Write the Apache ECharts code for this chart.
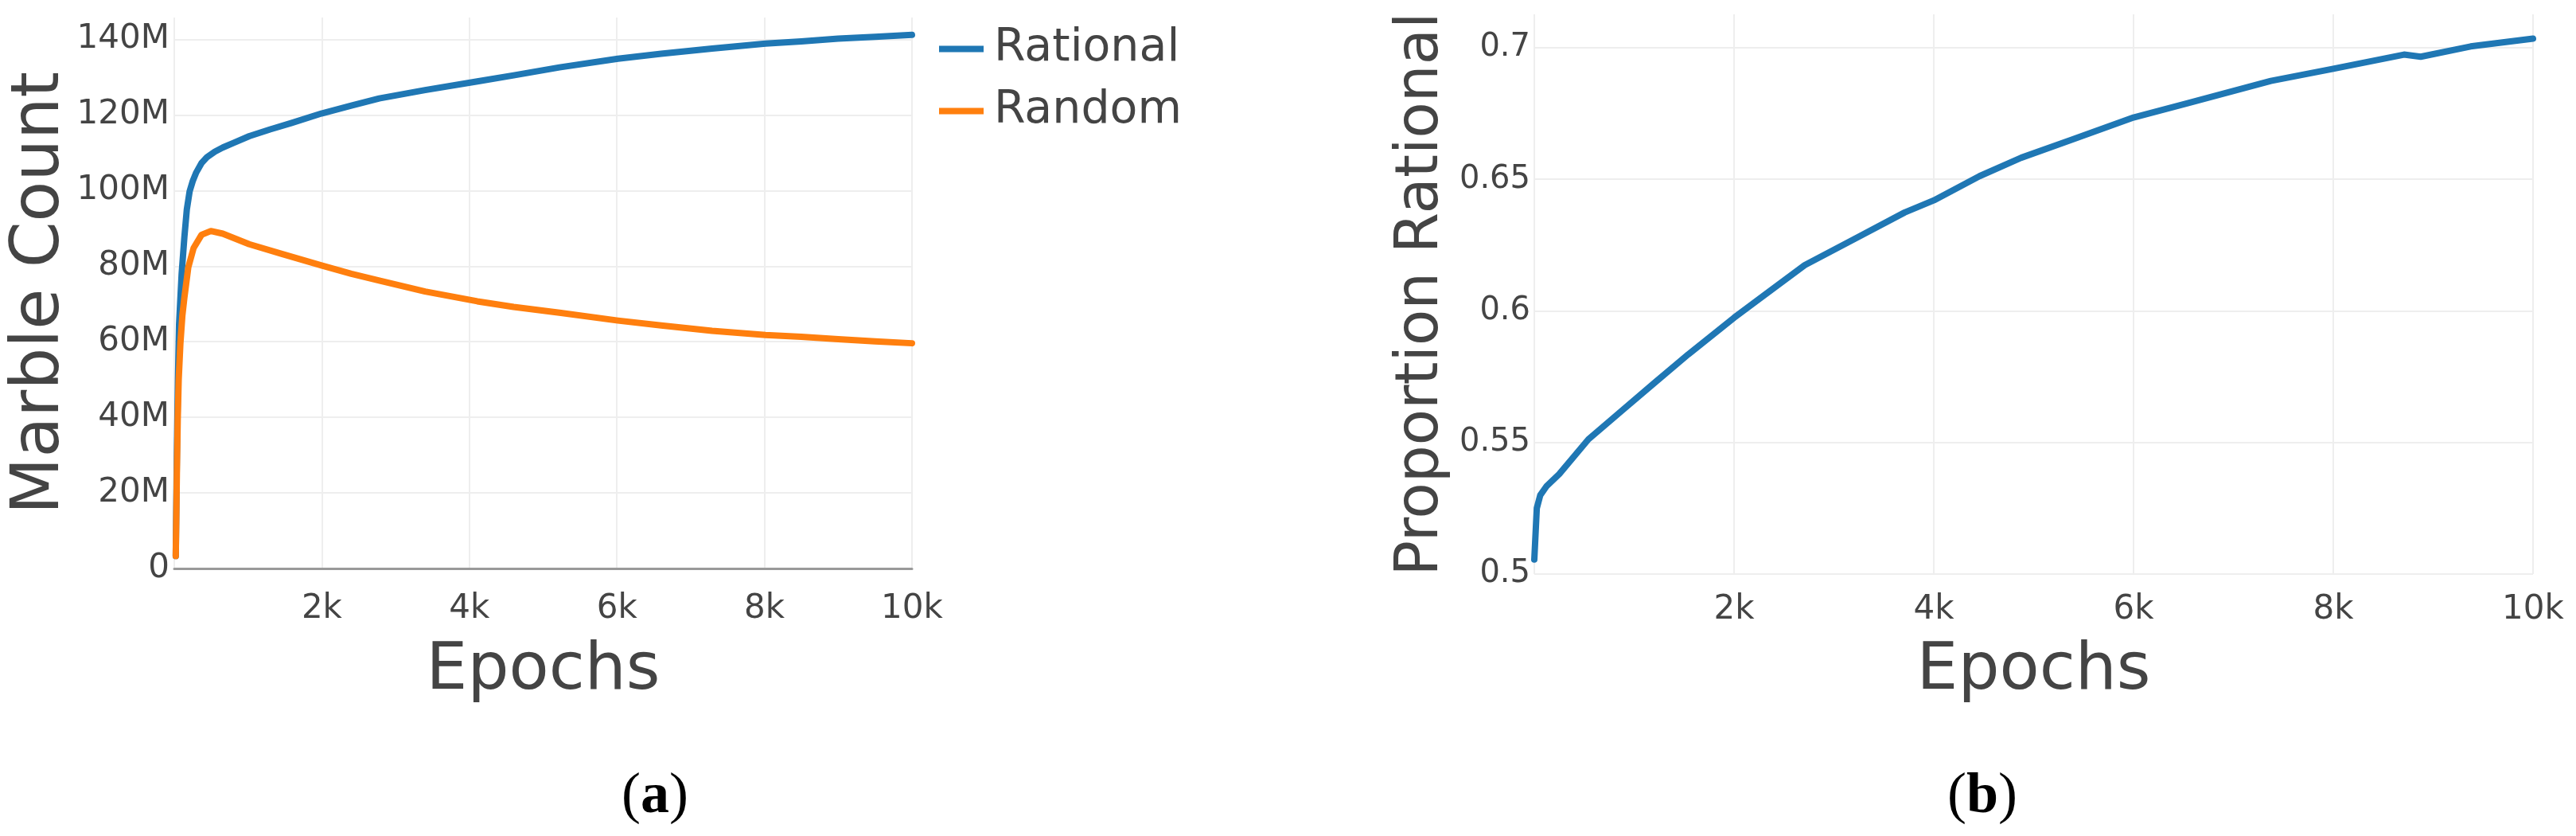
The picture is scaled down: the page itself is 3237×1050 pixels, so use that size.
<!DOCTYPE html>
<html>
<head>
<meta charset="utf-8">
<script src="https://cdn.jsdelivr.net/npm/echarts@6/dist/echarts.min.js"></script>
<style>
  html, body { margin: 0; padding: 0; background: #fff; }
  #main { width: 3237px; height: 1050px; }
</style>
</head>
<body>
<div id="main"></div>
<script>
// (a) marble counts
var rationalEpochs = [20, 35, 50, 65, 100, 137, 170, 208, 250, 298, 370, 442, 550, 658, 800, 1017, 1300, 1592, 1995, 2400, 2778, 3400, 4108, 4600, 5221, 6014, 6600, 7290, 8014, 8500, 9000, 9500, 10000];
var rationalCount = [3.3e6, 30e6, 50e6, 64.6e6, 78e6, 87.7e6, 95e6, 99.8e6, 102.5e6, 104.8e6, 107.3e6, 108.8e6, 110.3e6, 111.4e6, 112.6e6, 114.4e6, 116.2e6, 117.9e6, 120.4e6, 122.5e6, 124.4e6, 126.6e6, 128.9e6, 130.5e6, 132.6e6, 134.9e6, 136.2e6, 137.6e6, 138.9e6, 139.5e6, 140.2e6, 140.7e6, 141.2e6];
var randomEpochs = [20, 35, 47, 60, 83, 110, 137, 190, 262, 370, 496, 658, 1017, 1448, 1995, 2400, 2778, 3400, 4108, 4600, 5221, 6014, 6600, 7290, 8014, 8500, 9000, 9500, 10000];
var randomCount = [3.3e6, 25e6, 39.5e6, 50e6, 59.6e6, 67e6, 71.7e6, 79.7e6, 84.8e6, 88.3e6, 89.3e6, 88.6e6, 85.8e6, 83.3e6, 80.2e6, 78e6, 76.2e6, 73.3e6, 70.7e6, 69.2e6, 67.7e6, 65.6e6, 64.3e6, 62.9e6, 61.8e6, 61.3e6, 60.7e6, 60.1e6, 59.6e6];

// (b) proportion rational
var propEpochs = [0, 25, 60, 125, 250, 542, 875, 1208, 1542, 2000, 2375, 2708, 3208, 3708, 4000, 4458, 4875, 5375, 6000, 6542, 7375, 8000, 8708, 8875, 9375, 10000];
var propValues = [0.5055, 0.525, 0.530, 0.5335, 0.538, 0.5512, 0.562, 0.5728, 0.5835, 0.5974, 0.608, 0.6174, 0.6274, 0.6374, 0.642, 0.6512, 0.6582, 0.665, 0.6735, 0.6789, 0.6874, 0.692, 0.6974, 0.6966, 0.7005, 0.7035];

var seriesNames = ['Rational', 'Random'];
var captions = ['a', 'b'];

function zip(xs, ys) {
  return xs.map(function (x, i) { return [x, ys[i]]; });
}

var FONT = 'DejaVu Sans';
var TEXT = '#444';
var GRID = '#eeeeee';

function kLabel(v) { return v === 0 ? '0' : (v / 1000) + 'k'; }

function xAxisFor(idx, showLine, labelMargin, nameGap) {
  return {
    type: 'value', gridIndex: idx, min: 0, max: 10000, interval: 2000,
    name: 'Epochs', nameLocation: 'middle', nameGap: nameGap,
    nameTextStyle: { fontFamily: FONT, fontSize: 82, color: TEXT },
    axisLine: { show: showLine, onZero: false, lineStyle: { color: '#999', width: 3 } },
    axisTick: { show: false },
    axisLabel: { showMinLabel: false, formatter: kLabel, fontFamily: FONT, fontSize: 42, color: TEXT, margin: labelMargin },
    splitLine: { show: true, lineStyle: { color: GRID, width: 2 } }
  };
}

function lineSeries(name, xi, data, color, width) {
  return {
    name: name, type: 'line', xAxisIndex: xi, yAxisIndex: xi,
    data: data, showSymbol: false, smooth: false,
    lineStyle: { color: color, width: width, cap: 'round', join: 'round' },
    itemStyle: { color: color }
  };
}

var chart = echarts.init(document.getElementById('main'));
chart.setOption({
  backgroundColor: '#fff',
  animation: false,
  title: captions.map(function (c, i) {
    return {
      text: '({b|' + c + '})',
      left: i === 0 ? 818 : 2486,
      top: 960,
      textAlign: 'center',
      textStyle: {
        fontFamily: 'Liberation Serif', fontSize: 72, color: '#000', fontWeight: 'normal',
        rich: { b: { fontFamily: 'Liberation Serif', fontSize: 72, fontWeight: 'bold', color: '#000' } }
      }
    };
  }),
  legend: {
    orient: 'vertical', left: 1175, top: 28, itemGap: 21,
    itemWidth: 56, itemHeight: 8, icon: 'rect',
    data: seriesNames,
    textStyle: { fontFamily: FONT, fontSize: 57, color: TEXT, padding: [0, 0, 0, 8] }
  },
  grid: [
    { left: 219, right: 3237 - 1146, top: 22, bottom: 1050 - 714 },
    { left: 1928, right: 3237 - 3183, top: 18, bottom: 1050 - 721 }
  ],
  xAxis: [
    xAxisFor(0, true, 30, 89),
    xAxisFor(1, false, 24, 82)
  ],
  yAxis: [
    {
      type: 'value', gridIndex: 0, min: 0, max: 145.8e6, interval: 20e6,
      name: 'Marble Count', nameLocation: 'middle', nameGap: 121,
      nameTextStyle: { fontFamily: FONT, fontSize: 83, color: TEXT },
      axisLine: { show: false }, axisTick: { show: false },
      axisLabel: {
        showMaxLabel: false, margin: 6, fontFamily: FONT, fontSize: 42, color: TEXT,
        formatter: function (v) { return v === 0 ? '0' : (v / 1e6) + 'M'; }
      },
      splitLine: { show: true, showMaxLine: false, lineStyle: { color: GRID, width: 2 } }
    },
    {
      type: 'value', gridIndex: 1, min: 0.5, max: 0.7127, interval: 0.05,
      name: 'Proportion Rational', nameLocation: 'middle', nameGap: 104,
      nameTextStyle: { fontFamily: FONT, fontSize: 74, color: TEXT },
      axisLine: { show: false }, axisTick: { show: false },
      axisLabel: {
        showMaxLabel: false, margin: 5, fontFamily: FONT, fontSize: 40, color: TEXT,
        formatter: function (v) { return String(+v.toFixed(2)); }
      },
      splitLine: { show: true, showMaxLine: false, lineStyle: { color: GRID, width: 2 } }
    }
  ],
  series: [
    lineSeries('Rational', 0, zip(rationalEpochs, rationalCount), '#1f77b4', 8),
    lineSeries('Random', 0, zip(randomEpochs, randomCount), '#ff7f0e', 8),
    lineSeries('Proportion', 1, zip(propEpochs, propValues), '#1f77b4', 8)
  ]
});
</script>
</body>
</html>
